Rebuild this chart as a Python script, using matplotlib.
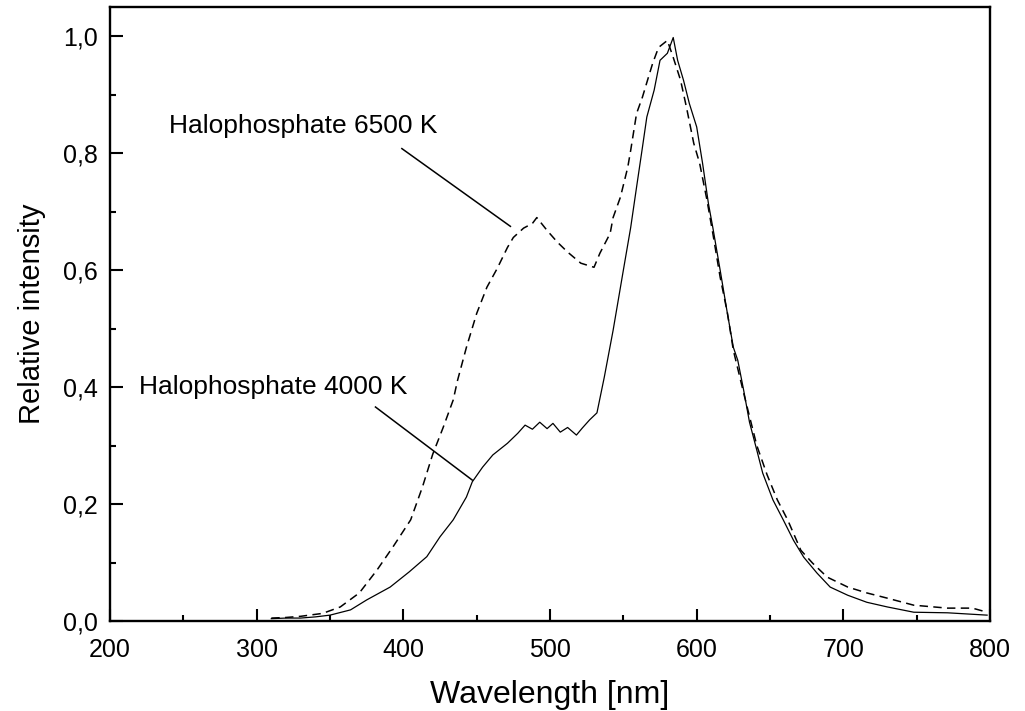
import matplotlib
matplotlib.use('Agg')
import matplotlib.pyplot as plt
from matplotlib.ticker import MultipleLocator, FixedLocator

plt.rcParams['font.family'] = ['Liberation Sans', 'DejaVu Sans']

# Halophosphate 4000 K (solid)
w4000 = [310, 320, 330, 340, 350, 364, 375, 391, 404, 416, 425, 434, 443, 447,
         454, 461, 471, 478, 483, 488, 493, 498, 502, 507, 512, 518, 522, 527,
         532, 537, 543, 550, 555, 559, 563, 566, 571, 575, 580, 584, 587, 591,
         595, 600, 604, 608, 611, 616, 621, 625, 628, 632, 636, 641, 645, 652,
         659, 666, 673, 682, 691, 703, 716, 730, 748, 771, 798]
i4000 = [0.004, 0.005, 0.005, 0.007, 0.010, 0.019, 0.036, 0.058, 0.084, 0.110,
         0.144, 0.173, 0.212, 0.238, 0.263, 0.284, 0.304, 0.321, 0.335, 0.328,
         0.340, 0.329, 0.338, 0.323, 0.331, 0.318, 0.330, 0.344, 0.356, 0.417,
         0.497, 0.600, 0.673, 0.742, 0.810, 0.862, 0.908, 0.959, 0.971, 0.998,
         0.959, 0.925, 0.885, 0.845, 0.783, 0.714, 0.673, 0.600, 0.525, 0.468,
         0.446, 0.395, 0.340, 0.292, 0.253, 0.207, 0.173, 0.138, 0.109, 0.082,
         0.058, 0.044, 0.032, 0.024, 0.015, 0.014, 0.010]

# Halophosphate 6500 K (dashed)
w6500 = [310, 320, 330, 345, 357, 370, 382, 393, 405, 413, 420, 427, 434, 437,
         443, 450, 457, 464, 471, 475, 482, 488, 491, 498, 505, 512, 521, 530,
         534, 541, 543, 548, 553, 555, 559, 563, 566, 570, 574, 580, 584, 589,
         593, 598, 602, 607, 611, 616, 621, 625, 632, 637, 641, 648, 655, 662,
         671, 679, 689, 703, 716, 730, 748, 771, 788, 798]
i6500 = [0.005, 0.006, 0.008, 0.013, 0.024, 0.048, 0.087, 0.127, 0.173, 0.229,
         0.285, 0.330, 0.378, 0.412, 0.468, 0.526, 0.571, 0.603, 0.639, 0.656,
         0.672, 0.680, 0.690, 0.668, 0.648, 0.631, 0.612, 0.605, 0.629, 0.663,
         0.690, 0.725, 0.776, 0.805, 0.868, 0.896, 0.921, 0.954, 0.981, 0.993,
         0.964, 0.925, 0.879, 0.817, 0.783, 0.720, 0.663, 0.588, 0.526, 0.463,
         0.390, 0.340, 0.300, 0.250, 0.207, 0.173, 0.121, 0.099, 0.075, 0.058,
         0.048, 0.039, 0.027, 0.022, 0.022, 0.015]

y_ticks = [0.0, 0.2, 0.4, 0.6, 0.8, 1.0]
y_tick_labels = ['0,0', '0,2', '0,4', '0,6', '0,8', '1,0']
x_ticks = [200, 300, 400, 500, 600, 700, 800]

# annotation text anchor and leader line (data coords)
lbl_6500 = (240, 0.846)
line_6500 = ([399, 473], [0.808, 0.675])
lbl_4000 = (220, 0.400)
line_4000 = ([381, 447], [0.366, 0.241])

fig = plt.figure(figsize=(10.25, 7.11), dpi=100)
ax = fig.add_axes([0.1073, 0.1266, 0.8586, 0.8634])

ax.plot(w4000, i4000, color='black', lw=0.9)
ax.plot(w6500, i6500, color='black', lw=1.1, linestyle=(0, (5.5, 3.5)))

ax.plot(*line_6500, color='black', lw=1.1)
ax.plot(*line_4000, color='black', lw=1.1)
ax.text(*lbl_6500, 'Halophosphate 6500 K', fontsize=19, va='center', ha='left')
ax.text(*lbl_4000, 'Halophosphate 4000 K', fontsize=19, va='center', ha='left')

ax.set_xlim(200, 800)
ax.set_ylim(0, 1.05)
ax.xaxis.set_major_locator(FixedLocator(x_ticks))
ax.xaxis.set_minor_locator(MultipleLocator(50))
ax.yaxis.set_major_locator(FixedLocator(y_ticks))
ax.yaxis.set_minor_locator(MultipleLocator(0.1))
ax.set_yticklabels(y_tick_labels)

ax.tick_params(which='both', direction='in', top=False, right=False, width=1.5, labelsize=18)
ax.tick_params(which='major', length=9)
ax.tick_params(axis='x', which='major', pad=12)
ax.tick_params(axis='y', which='major', pad=9)
ax.tick_params(which='minor', length=4.5)
for s in ax.spines.values():
    s.set_linewidth(1.7)

ax.set_xlabel('Wavelength [nm]', fontsize=23, labelpad=13)
ax.set_ylabel('Relative intensity', fontsize=21, labelpad=12)

fig.savefig('out.png', dpi=100)
